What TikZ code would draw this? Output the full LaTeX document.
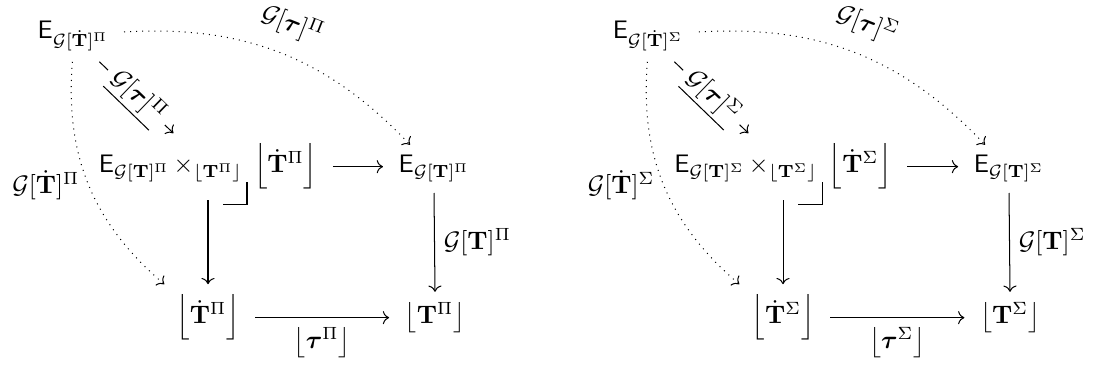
\documentclass[tikz,border=0pt]{standalone}
\usepackage{amsmath}
\usepackage{amssymb}
\usetikzlibrary{arrows.meta,calc}

\begin{document}
\begin{tikzpicture}[
    x=0.395pt, y=-0.395pt,
    obj/.style={anchor=base, inner xsep=6pt, inner ysep=4pt},
    arr/.style={-{Computer Modern Rightarrow}, line width=0.4pt},
    dots/.style={arr, dotted},
    lbl/.style={inner sep=3.5pt},
]
\useasboundingbox (0,0) rectangle (1095,367);
\foreach \s/\dx/\i in {\Pi/0/a, \Sigma/575/b} {
  \node[obj] (tl\i) at (73+\dx, 39) {$\mathsf{E}_{\mathcal{G}[\dot{\mathbf{T}}]^{\s}}$};
  \node[obj] (prod\i) at (208+\dx, 173) {$\mathsf{E}_{\mathcal{G}[\mathbf{T}]^{\s}}\,{\times}_{\lfloor \mathbf{T}^{\s} \rfloor}\;\left\lfloor \dot{\mathbf{T}}^{\s} \right\rfloor$};
  \node[obj] (tr\i) at (434+\dx, 173) {$\mathsf{E}_{\mathcal{G}[\mathbf{T}]^{\s}}$};
  \node[obj] (bl\i) at (208+\dx, 324) {$\left\lfloor \dot{\mathbf{T}}^{\s} \right\rfloor$};
  \node[obj] (br\i) at (435+\dx, 324) {$\left\lfloor \mathbf{T}^{\s} \right\rfloor$};
  \draw[arr] (tl\i) -- (prod\i)
    node[midway, sloped, fill=white, inner sep=3pt] {$\underline{\mathcal{G}[\boldsymbol{\tau}]^{\s}}$};
  \draw[dots] (tl\i) to[bend left=25] node[pos=0.5, sloped, above=3pt, lbl] {$\mathcal{G}[\boldsymbol{\tau}]^{\s}$} (tr\i);
  \draw[dots] (tl\i) to[bend right=27] node[pos=0.5, left, lbl] {$\mathcal{G}[\dot{\mathbf{T}}]^{\s}$} (bl\i);
  \draw[arr] ([yshift=2.5pt]prod\i.base east) -- ([yshift=2.5pt]tr\i.base west);
  \draw[arr] (prod\i.south) -- (bl\i.north);
  \draw[arr] (tr\i.south) -- (br\i.north) node[midway, right, lbl] {$\mathcal{G}[\mathbf{T}]^{\s}$};
  \draw[arr] ([yshift=2.5pt]bl\i.base east) -- ([yshift=2.5pt]br\i.base west)
    node[midway, below, lbl] {$\left\lfloor \boldsymbol{\tau}^{\s} \right\rfloor$};
  \coordinate (pb\i) at (247+\dx, 205);
  \draw (pb\i) ++(-24,0) -- (pb\i) -- ++(0,-23);
}
\end{tikzpicture}
\end{document}
